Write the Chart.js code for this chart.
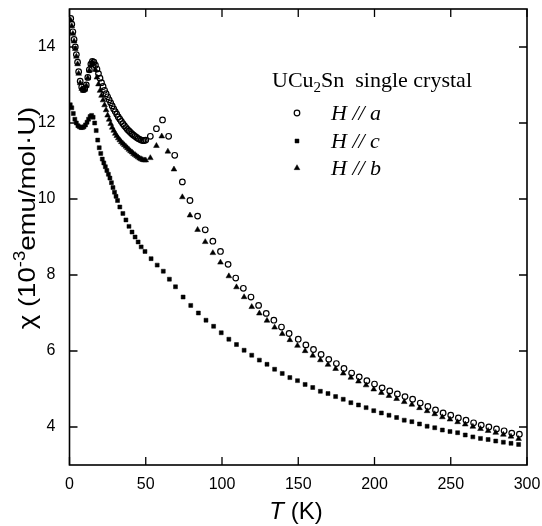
<!DOCTYPE html>
<html>
<head>
<meta charset="utf-8">
<script src="https://cdn.jsdelivr.net/npm/chart.js@4.4.1/dist/chart.umd.min.js"></script>
<style>
html, body { margin: 0; padding: 0; background: #fff; }
</style>
</head>
<body>
<canvas id="chiChart" width="542" height="526"></canvas>
<script>
// H // a  (open circles)
var tempA = [0.8, 1.5, 2.2, 3, 3.8, 4.5, 5.3, 6, 7, 8, 9, 10, 11, 12, 13, 14, 15, 16,
  17, 18, 19, 20, 21, 22, 23, 24, 25, 26, 27, 28, 29, 30, 31, 32, 33, 34, 35, 36, 37, 38, 39, 40,
  41, 42, 43, 44, 45, 46, 47, 48, 49, 50, 53, 57, 61, 65, 69, 74, 79, 84, 89, 94, 99, 104, 109,
  114, 119, 124, 129, 134, 139, 144, 150, 155, 160, 165, 170, 175, 180, 185, 190, 195, 200, 205,
  210, 215, 220, 225, 230, 235, 240, 245, 250, 255, 260, 265, 270, 275, 280, 285, 290, 295];
var chiA = [14.75, 14.6, 14.4, 14.2, 14.0, 13.8, 13.6, 13.35, 13.1, 12.95, 12.88, 12.9, 13.0, 13.2, 13.4, 13.55, 13.62, 13.6,
  13.52, 13.42, 13.3, 13.18, 13.06, 12.96, 12.86, 12.77, 12.69, 12.61, 12.53, 12.45, 12.37, 12.3, 12.23, 12.16, 12.1, 12.04, 11.98, 11.93, 11.88, 11.83, 11.79, 11.75,
  11.71, 11.68, 11.65, 11.62, 11.59, 11.57, 11.55, 11.54, 11.54, 11.55, 11.65, 11.85, 12.08, 11.65, 11.15, 10.45, 9.96, 9.55, 9.19, 8.89, 8.62, 8.28, 7.92,
  7.65, 7.42, 7.2, 6.99, 6.81, 6.63, 6.46, 6.31, 6.16, 6.04, 5.91, 5.78, 5.67, 5.54, 5.42, 5.32, 5.22, 5.13, 5.03,
  4.95, 4.87, 4.8, 4.73, 4.63, 4.54, 4.45, 4.37, 4.31, 4.24, 4.18, 4.11, 4.05, 4.0, 3.95, 3.9, 3.84, 3.81];

// H // c  (filled squares)
var tempC = [0.5, 1.5, 2.5, 3.5, 4.5, 5.5, 6.5, 7.5, 8.5, 9.5, 10.5, 11.5, 12.5, 13.5, 14.5, 15.5, 16.5,
  17.5, 18.5, 19.5, 20.5, 21.5, 22.5, 23.5, 24.5, 25.5, 26.5, 27.5, 28.5, 29.5, 30.5, 31.5, 33, 35, 37,
  39, 41, 43, 45, 47, 49.5, 53.5, 57.5, 61.5, 65.5, 69.5, 74.5, 79.5, 84.5, 89.5, 94.5, 99.5, 104.5,
  109.5, 114.5, 119.5, 124.5, 129.5, 134.5, 139.5, 144.5, 149.5, 154.5, 159.5, 164.5, 169.5, 174.5,
  179.5, 184.5, 189.5, 194.5, 199.5, 204.5, 209.5, 214.5, 219.5, 224.5, 229.5, 234.5, 239.5, 244.5,
  249.5, 254.5, 259.5, 264.5, 269.5, 274.5, 279.5, 284.5, 289.5, 294.5];
var chiC = [12.48, 12.4, 12.25, 12.1, 12.0, 11.93, 11.9, 11.88, 11.88, 11.9, 11.95, 12.02, 12.1, 12.17, 12.2, 12.15, 12.0,
  11.8, 11.55, 11.35, 11.2, 11.05, 10.95, 10.85, 10.75, 10.65, 10.55, 10.43, 10.3, 10.18, 10.07, 9.96, 9.79, 9.62, 9.45,
  9.28, 9.13, 9.0, 8.87, 8.74, 8.62, 8.43, 8.26, 8.1, 7.89, 7.69, 7.42, 7.2, 7.0, 6.81, 6.65, 6.48, 6.31,
  6.17, 6.02, 5.89, 5.76, 5.65, 5.52, 5.41, 5.3, 5.22, 5.12, 5.04, 4.94, 4.88, 4.8,
  4.73, 4.64, 4.58, 4.51, 4.43, 4.37, 4.31, 4.25, 4.18, 4.14, 4.08, 4.02, 3.98, 3.92,
  3.88, 3.85, 3.79, 3.74, 3.7, 3.67, 3.63, 3.6, 3.57, 3.54];

// H // b  (filled triangles)
var tempB = [0.8, 1.5, 2.2, 3, 3.8, 4.5, 5.3, 6, 7, 8, 9, 10, 11, 12, 13, 14, 15, 16,
  17, 18, 19, 20, 21, 22, 23, 24, 25, 26, 27, 28, 29, 30, 31, 32, 33, 34, 35, 36, 37, 38, 39, 40,
  41, 42, 43, 44, 45, 46, 47, 48, 49, 50, 53, 57, 60.5, 64.5, 68.5, 74, 79, 84, 89, 94, 99, 104.5,
  109.5, 114.5, 119.5, 124.5, 129.5, 134.5, 139.5, 144.5, 149.5, 154.5, 159.5, 164.5, 169.5, 174.5,
  179.5, 184.5, 189.5, 194.5, 199.5, 204.5, 209.5, 214.5, 219.5, 224.5, 229.5, 234.5, 239.5, 244.5,
  249.5, 254.5, 259.5, 264.5, 269.5, 274.5, 279.5, 284.5, 289.5, 294.5];
var chiB = [14.7, 14.55, 14.35, 14.15, 13.95, 13.75, 13.55, 13.3, 13.05, 12.9, 12.85, 12.88, 12.98, 13.18, 13.38, 13.52, 13.6, 13.55,
  13.4, 13.2, 13.02, 12.85, 12.72, 12.6, 12.47, 12.34, 12.2, 12.09, 11.98, 11.88, 11.8, 11.72, 11.66, 11.6, 11.55, 11.5, 11.46, 11.42, 11.38, 11.34, 11.3, 11.26,
  11.23, 11.19, 11.16, 11.13, 11.1, 11.07, 11.05, 11.03, 11.02, 11.02, 11.08, 11.4, 11.65, 11.25, 10.78, 10.05, 9.57, 9.19, 8.87, 8.58, 8.33, 7.97,
  7.68, 7.42, 7.16, 6.99, 6.8, 6.62, 6.45, 6.29, 6.14, 6.0, 5.88, 5.76, 5.64, 5.53,
  5.41, 5.3, 5.2, 5.1, 4.99, 4.9, 4.82, 4.74, 4.66, 4.59, 4.5, 4.42, 4.34, 4.26,
  4.2, 4.13, 4.07, 4.01, 3.95, 3.9, 3.85, 3.8, 3.75, 3.69];

var xTicks = [0, 50, 100, 150, 200, 250, 300];
var yTicks = [4, 6, 8, 10, 12, 14];

function toPoints(ts, vs) {
  return ts.map(function (t, i) { return { x: t, y: vs[i] }; });
}

const sans = '"Liberation Sans", Arial, sans-serif';
const serif = '"Liberation Serif", "Times New Roman", serif';

// box, inward ticks, axis titles and the legend
const frame = {
  id: 'frame',
  afterDraw(chart) {
    const { ctx, chartArea: a, scales: { x, y } } = chart;
    ctx.save();
    ctx.strokeStyle = '#000';
    ctx.lineWidth = 1.6;
    ctx.strokeRect(a.left, a.top, a.right - a.left, a.bottom - a.top);
    ctx.beginPath();
    xTicks.forEach(v => {
      const px = x.getPixelForValue(v);
      ctx.moveTo(px, a.bottom); ctx.lineTo(px, a.bottom - 8);
      ctx.moveTo(px, a.top); ctx.lineTo(px, a.top + 8);
    });
    yTicks.forEach(v => {
      const py = y.getPixelForValue(v);
      ctx.moveTo(a.left, py); ctx.lineTo(a.left + 8, py);
      ctx.moveTo(a.right, py); ctx.lineTo(a.right - 8, py);
    });
    ctx.lineWidth = 1.3;
    ctx.stroke();

    ctx.fillStyle = '#000';
    ctx.textBaseline = 'alphabetic';

    // x title: italic T (K)
    const fx1 = 'italic 24px ' + sans, fx2 = '24px ' + sans;
    ctx.font = fx1; const wT = ctx.measureText('T').width;
    ctx.font = fx2; const wK = ctx.measureText(' (K)').width;
    let sx = 296 - (wT + wK) / 2;
    ctx.font = fx1; ctx.fillText('T', sx, 519);
    ctx.font = fx2; ctx.fillText(' (K)', sx + wT, 519);

    // y title, rotated, with superscript
    const parts = [['\u03c7 (10', '24px ' + sans, 0], ['-3', '16px ' + sans, -10], ['emu/mol\u00b7U)', '24px ' + sans, 0]];
    let total = 0;
    parts.forEach(p => { ctx.font = p[1]; p.push(ctx.measureText(p[0]).width); total += p[3]; });
    ctx.save();
    ctx.translate(35, 218);
    ctx.rotate(-Math.PI / 2);
    ctx.scale(1.15, 1);
    let cx = -total / 2;
    parts.forEach(p => { ctx.font = p[1]; ctx.fillText(p[0], cx, p[2]); cx += p[3]; });
    ctx.restore();

    // legend heading UCu2Sn  single crystal
    ctx.font = '22px ' + serif;
    let hx = 272;
    ctx.fillText('UCu', hx, 87); hx += ctx.measureText('UCu').width;
    ctx.font = '15px ' + serif;
    ctx.fillText('2', hx, 92); hx += ctx.measureText('2').width;
    ctx.font = '22px ' + serif;
    ctx.fillText('Sn  single crystal', hx, 87);

    // legend rows
    const rowY = [113, 141, 168];
    chart.data.datasets.forEach((ds, i) => {
      ctx.fillStyle = '#000';
      ctx.strokeStyle = '#000';
      ctx.lineWidth = ds.pointBorderWidth;
      ctx.save();
      ctx.fillStyle = ds.pointBackgroundColor;
      Chart.helpers.drawPoint(ctx, { pointStyle: ds.pointStyle, radius: ds.pointRadius, rotation: 0, borderWidth: ds.pointBorderWidth }, 297, rowY[i]);
      ctx.restore();
      ctx.font = 'italic 22px ' + serif;
      ctx.fillText(ds.label, 331, rowY[i] + 7);
    });
    ctx.restore();
  }
};

const chiChart = new Chart(document.getElementById('chiChart'), {
  type: 'scatter',
  data: {
    datasets: [
      {
        label: 'H // a',
        data: toPoints(tempA, chiA),
        pointStyle: 'circle',
        pointRadius: 2.8,
        pointBorderWidth: 1.2,
        pointBackgroundColor: 'rgba(255,255,255,0)',
        pointBorderColor: '#000'
      },
      {
        label: 'H // c',
        data: toPoints(tempC, chiC),
        pointStyle: 'rect',
        pointRadius: 2.8,
        pointBorderWidth: 0.5,
        pointBackgroundColor: '#000',
        pointBorderColor: '#000'
      },
      {
        label: 'H // b',
        data: toPoints(tempB, chiB),
        pointStyle: 'triangle',
        pointRadius: 3.3,
        pointBorderWidth: 0.5,
        pointBackgroundColor: '#000',
        pointBorderColor: '#000'
      }
    ]
  },
  options: {
    responsive: false,
    animation: false,
    devicePixelRatio: 1,
    layout: { padding: { left: 0, right: 15, top: 9, bottom: 0 } },
    plugins: { legend: { display: false }, tooltip: { enabled: false } },
    scales: {
      x: {
        type: 'linear',
        min: 0,
        max: 300,
        afterBuildTicks: s => { s.ticks = xTicks.map(v => ({ value: v })); },
        afterFit: s => { s.height = 61; s.paddingLeft = 0; s.paddingRight = 0; },
        grid: { display: false, drawTicks: false },
        border: { display: false },
        ticks: { color: '#000', padding: 10, maxRotation: 0, font: { family: sans, size: 16 } }
      },
      y: {
        min: 3,
        max: 15,
        afterBuildTicks: s => { s.ticks = yTicks.map(v => ({ value: v })); },
        afterFit: s => { s.width = 69.5; s.paddingTop = 0; s.paddingBottom = 0; },
        grid: { display: false, drawTicks: false },
        border: { display: false },
        ticks: { color: '#000', padding: 14, font: { family: sans, size: 16 } }
      }
    }
  },
  plugins: [frame]
});
</script>
</body>
</html>
